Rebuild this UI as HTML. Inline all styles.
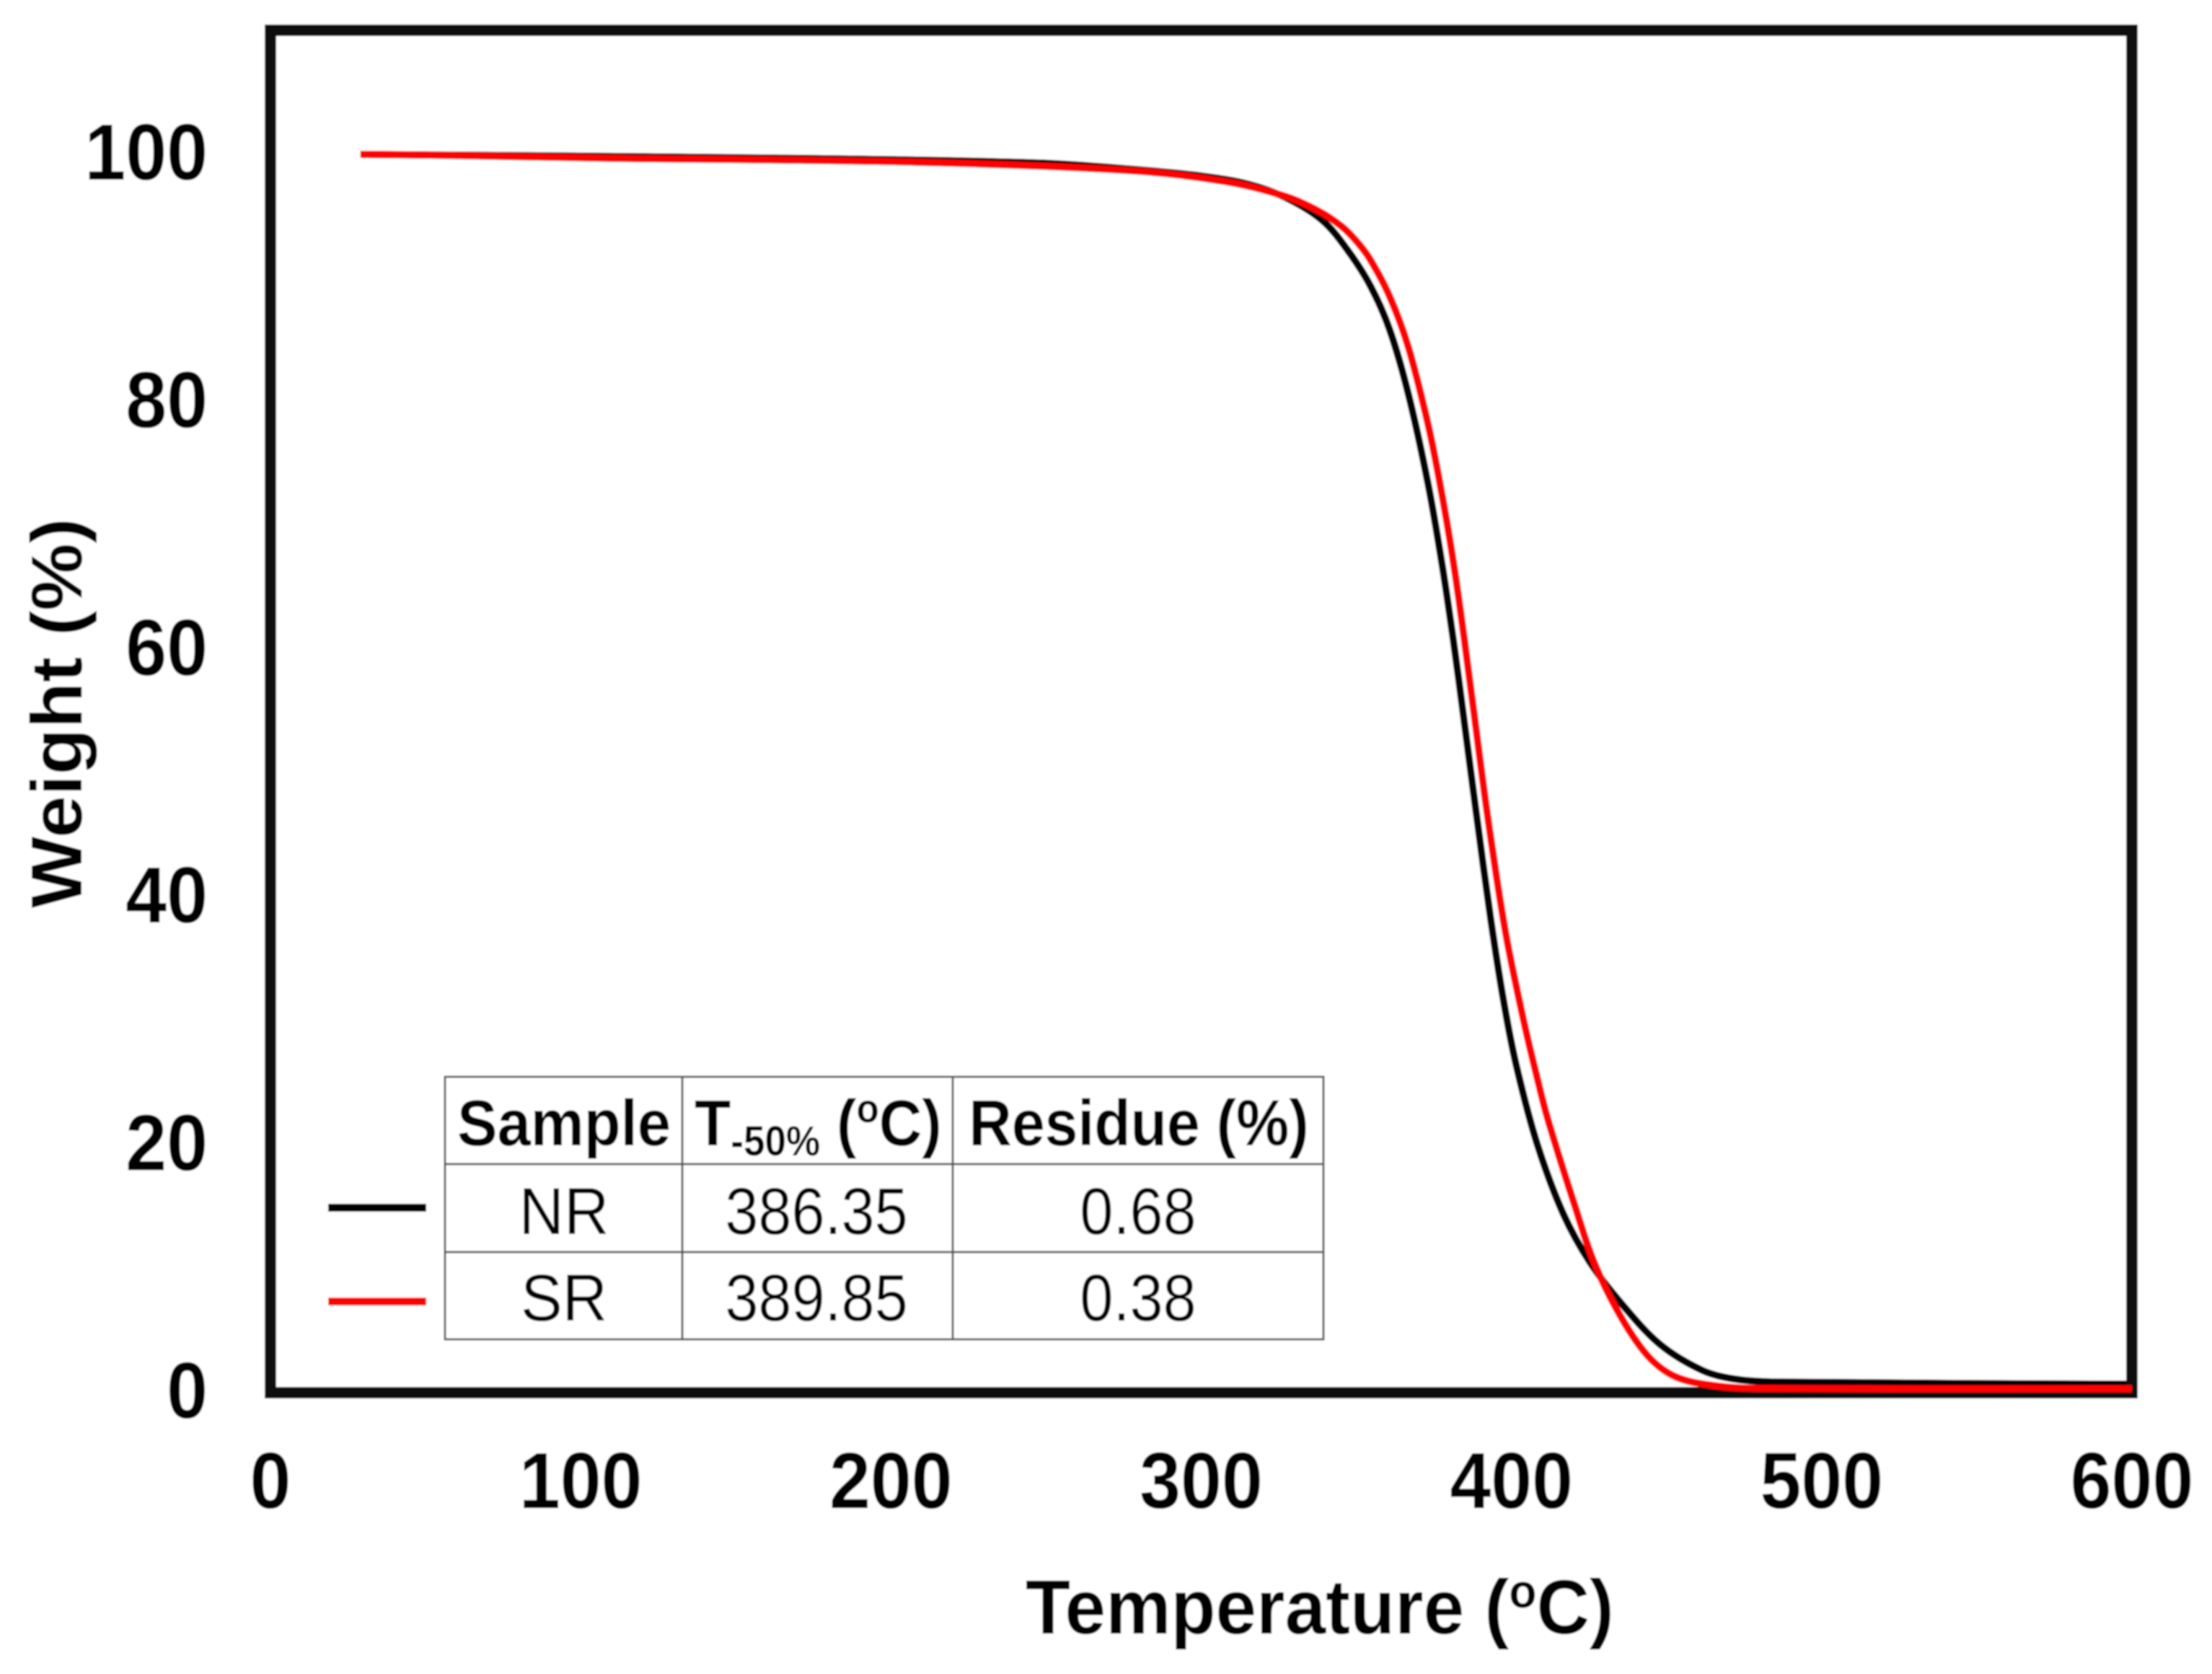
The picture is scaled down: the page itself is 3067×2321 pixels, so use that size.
<!DOCTYPE html>
<html lang="en">
<head>
<meta charset="utf-8">
<title>TGA curves of NR and SR</title>
<style>
html,body{margin:0;padding:0;background:#fff;width:3067px;height:2321px;overflow:hidden}
svg{display:block}
text{font-family:"Liberation Sans",Arial,sans-serif;fill:#000}
.b{font-weight:700}
</style>
</head>
<body>
<svg id="chart" xmlns="http://www.w3.org/2000/svg" width="3067" height="2321" viewBox="0 0 3067 2321">
  <defs><filter id="soft" x="-2%" y="-2%" width="104%" height="104%"><feGaussianBlur stdDeviation="1.1"/></filter></defs>
  <g id="root" filter="url(#soft)">
    <rect x="0" y="0" width="3067" height="2321" fill="#fff"/>
    <g id="series"></g>
    <rect x="375" y="42" width="2581" height="1889" fill="none" stroke="#0a0a0a" stroke-width="16"/>
    <g id="reds"></g>
    <g id="xticks"></g>
    <g id="yticks"></g>
    <text class="b" font-size="107" transform="translate(1422,2265) scale(.95,1)">Temperature (<tspan font-size="66" dy="-36">o</tspan><tspan dy="36">C)</tspan></text>
    <text class="b" font-size="104" transform="translate(113,1259) rotate(-90) scale(1.01,.96)">Weight (%)</text>

    <g>
      <g stroke="#555" stroke-width="3" fill="none">
        <rect x="617" y="1493" width="1218" height="364"/>
        <line x1="617" y1="1614" x2="1835" y2="1614"/>
        <line x1="617" y1="1736" x2="1835" y2="1736"/>
        <line x1="946" y1="1493" x2="946" y2="1857"/>
        <line x1="1321" y1="1493" x2="1321" y2="1857"/>
      </g>
      <g font-size="90">
        <text class="b" text-anchor="middle" transform="translate(782,1588) scale(.925,1)">Sample</text>
        <text class="b" transform="translate(963,1588) scale(.915,1)">T<tspan font-size="58" dy="14">-50%</tspan><tspan dy="-14"> (</tspan><tspan font-size="56" dy="-32">o</tspan><tspan dy="32">C)</tspan></text>
        <text class="b" text-anchor="middle" transform="translate(1579,1588) scale(.915,1)">Residue (%)</text>
      </g>
      <g font-size="92" text-anchor="middle">
        <text transform="translate(782,1711) scale(.94,1)">NR</text>
        <text transform="translate(1132,1711) scale(.9,1)">386.35</text>
        <text transform="translate(1578,1711) scale(.9,1)">0.68</text>
        <text transform="translate(782,1831) scale(.94,1)">SR</text>
        <text transform="translate(1132,1831) scale(.9,1)">389.85</text>
        <text transform="translate(1578,1831) scale(.9,1)">0.38</text>
      </g>
      <rect x="455" y="1669" width="136" height="11" fill="#000"/>
      <rect x="455" y="1799" width="136" height="11" fill="#f00"/>
    </g>
  </g>
</svg>
<script>
const xTickLabels = [0, 100, 200, 300, 400, 500, 600];
const yTickLabels = [0, 20, 40, 60, 80, 100];

const nrTemp = [29, 163, 247.6, 280, 300, 315, 327.3, 338.9, 346.8, 354.5, 360.8, 366.8, 373.1, 377.7, 381.2, 383.1, 387.7, 393.3, 397.5, 401.6, 408.4, 416.8, 425.4, 435.8, 447.9, 461.6, 472.1, 485.8, 600];
const nrWeight = [100, 99.7, 99.3, 98.75, 98.25, 97.6, 96.5, 94.7, 92.4, 89.4, 85.8, 80.6, 73.4, 66.8, 60.9, 57.4, 48.6, 38.3, 31.6, 26.4, 20, 14.4, 10.5, 7.1, 3.9, 1.8, 1.1, 0.87, 0.68];

const srTemp = [29, 52.3, 108.3, 203.9, 276.6, 308, 327.3, 338, 345.2, 350, 354.5, 360.8, 366.8, 373.1, 377.7, 381.7, 384.7, 387.7, 392.4, 398, 403.8, 408.6, 411.7, 420.3, 427, 435.8, 444.4, 453, 465.1, 479, 600];
const srWeight = [100, 99.94, 99.7, 99.4, 98.7, 97.8, 96.6, 95.4, 94.2, 93, 91.5, 88.5, 84.4, 78.2, 72.4, 66.4, 61, 55.3, 46.4, 37.3, 30.2, 25.1, 22.1, 15.2, 10.3, 5.9, 2.85, 1.28, 0.58, 0.35, 0.32];

const NS = 'http://www.w3.org/2000/svg';
function xScale(t) { return 375 + t * (2956 - 375) / 600; }
function yScale(w) { return 1931 - w * (1931 - 214) / 100; }

function curvePath(ts, ws) {
  const p = ts.map(function (t, i) { return [xScale(t), yScale(ws[i])]; });
  let d = 'M' + p[0][0].toFixed(1) + ' ' + p[0][1].toFixed(1);
  for (let i = 0; i < p.length - 1; i++) {
    const a = p[Math.max(0, i - 1)], b = p[i], c = p[i + 1], e = p[Math.min(p.length - 1, i + 2)];
    const len = Math.hypot(c[0] - b[0], c[1] - b[1]);
    const l1 = Math.hypot(c[0] - a[0], c[1] - a[1]) || 1;
    const l2 = Math.hypot(e[0] - b[0], e[1] - b[1]) || 1;
    const c1x = b[0] + (c[0] - a[0]) / l1 * len / 3;
    const c1y = b[1] + (c[1] - a[1]) / l1 * len / 3;
    const c2x = c[0] - (e[0] - b[0]) / l2 * len / 3;
    const c2y = c[1] - (e[1] - b[1]) / l2 * len / 3;
    d += 'C' + c1x.toFixed(1) + ' ' + c1y.toFixed(1) + ' ' + c2x.toFixed(1) + ' ' + c2y.toFixed(1) + ' ' + c[0].toFixed(1) + ' ' + c[1].toFixed(1);
  }
  return d;
}

const seriesGroup = document.getElementById('series');
const redsGroup = document.getElementById('reds');

const nrLine = document.createElementNS(NS, 'path');
nrLine.setAttribute('d', curvePath(nrTemp, nrWeight));
nrLine.setAttribute('fill', 'none');
nrLine.setAttribute('stroke', '#000');
nrLine.setAttribute('stroke-width', '10');


seriesGroup.appendChild(nrLine);

const srLine = document.createElementNS(NS, 'path');
srLine.setAttribute('d', curvePath(srTemp, srWeight));
srLine.setAttribute('fill', 'none');
srLine.setAttribute('stroke', '#f00');
srLine.setAttribute('stroke-width', '10');


redsGroup.appendChild(srLine);

const xGroup = document.getElementById('xticks');
xTickLabels.forEach(function (v) {
  const t = document.createElementNS(NS, 'text');
  t.textContent = String(v);
  t.setAttribute('class', 'b');
  t.setAttribute('font-size', '110');
  t.setAttribute('text-anchor', 'middle');
  t.setAttribute('transform', 'translate(' + xScale(v) + ',2091) scale(.93,1)');
  
  
  xGroup.appendChild(t);
});

const yGroup = document.getElementById('yticks');
yTickLabels.forEach(function (v) {
  const t = document.createElementNS(NS, 'text');
  t.textContent = String(v);
  t.setAttribute('class', 'b');
  t.setAttribute('font-size', '110');
  t.setAttribute('text-anchor', 'end');
  t.setAttribute('transform', 'translate(288,' + (yScale(v) + 35) + ') scale(.93,1)');
  
  
  yGroup.appendChild(t);
});
</script>
</body>
</html>
